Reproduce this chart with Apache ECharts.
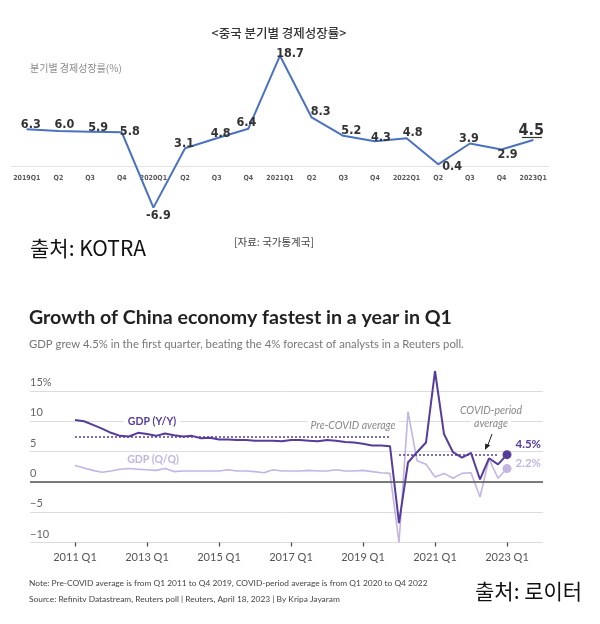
<!DOCTYPE html>
<html><head><meta charset="utf-8">
<script src="https://cdn.jsdelivr.net/npm/echarts@6/dist/echarts.min.js"></script>
<style>html,body{margin:0;padding:0;background:#fff}#c{width:600px;height:624px}</style>
</head><body><div id="c"></div>
<script>
// ---- Top chart (KOTRA) ----
const kotraQuarters = ['2019Q1','Q2','Q3','Q4','2020Q1','Q2','Q3','Q4','2021Q1','Q2','Q3','Q4','2022Q1','Q2','Q3','Q4','2023Q1'];
const kotraGrowth = [6.3,6.0,5.9,5.8,-6.9,3.1,4.8,6.4,18.7,8.3,5.2,4.3,4.8,0.4,3.9,2.9,4.5];

// ---- Bottom chart (Reuters) ----
const reutersTickLabels = ['2011 Q1','2013 Q1','2015 Q1','2017 Q1','2019 Q1','2021 Q1','2023 Q1'];
const reutersFirstQuarter = '2011 Q1';
const gdpYoY = [10.2,10.0,9.4,8.8, 8.1,7.6,7.5,8.1, 7.9,7.6,8.0,7.7, 7.5,7.6,7.2,7.3, 7.0,7.0,6.9,6.9,
  6.8,6.8,6.8,6.7, 6.9,6.9,6.8,6.7, 6.9,6.8,6.6,6.5, 6.3,6.0,6.0,5.9, -6.8,3.2,4.9,6.5,
  18.3,7.9,4.9,4.0, 4.8,0.4,3.9,2.9, 4.5];
const gdpQoQ = [2.7,2.3,1.9,1.6, 1.8,2.1,2.2,2.1, 2.0,1.9,2.2,1.7, 1.8,1.8,1.8,1.8, 1.8,2.0,1.8,1.8,
  1.7,1.5,2.0,1.8, 1.8,1.8,1.9,1.8, 1.8,2.0,1.8,1.8, 1.9,1.7,1.5,1.4, -10.0,11.6,3.5,2.9,
  0.8,1.4,0.6,1.4, 1.5,-2.5,3.8,0.6, 2.2];
const preCovidAvg = {from:'2011 Q1', to:'2019 Q4', value:7.5};
const covidAvg = {from:'2020 Q1', to:'2022 Q4', value:4.5};

// quarter categories for the bottom axis (2009 Q4 .. 2024 Q1)
const bottomQuarters = [];
for (let y = 2009; y <= 2024; y++) for (let q = 1; q <= 4; q++) bottomQuarters.push(y + ' Q' + q);
const axisQuarters = bottomQuarters.slice(bottomQuarters.indexOf('2009 Q4'), bottomQuarters.indexOf('2024 Q1') + 1);
const pad = axisQuarters.indexOf(reutersFirstQuarter);

// label offsets (style only) for top chart
const kotraLabelOffsets = [[4,-5],[6,-6],[8,-4],[8,-1],[5,8],[-1,-5],[4,-4],[-2,-6],[10,-2],[9,-6],[8,-5],[6,-3],[6,-5],[14,2],[-1,-5],[6,5],[-2,-9]];

const YY = '#563c9c', QQ = '#c3b4e4';
const latin = "Lato, 'Noto Sans', sans-serif";
const kr = "'Noto Sans CJK KR', sans-serif";
const narrow = "'Liberation Sans Narrow', 'DejaVu Sans Condensed', sans-serif";

function lastPoint(arr, color, offY) {
  return Array(pad).fill('-').concat(arr.map((v, i) => i === arr.length - 1 ? {
    value: v, symbol: 'circle', symbolSize: 9, itemStyle: {color: color},
    label: {show: true, position: 'right', distance: 4, offset: [0, offY], formatter: '{c}%',
      color: color, fontWeight: 'bold', fontSize: 11.5, fontFamily: latin}
  } : v));
}

const chart = echarts.init(document.getElementById('c'), null, {renderer: 'canvas'});
chart.setOption({
  animation: false,
  backgroundColor: '#fff',
  grid: [
    {left: 11, width: 538, top: 48, height: 178},
    {left: 30, width: 513, top: 391, height: 151.5}
  ],
  xAxis: [
    {gridIndex: 0, type: 'category', data: kotraQuarters, boundaryGap: true, offset: -59.3,
      axisLine: {onZero: false, lineStyle: {color: '#e3e3e3', width: 1}}, axisTick: {show: false},
      axisLabel: {color: '#5a5a5a', fontSize: 7, fontWeight: 'bold', fontFamily: narrow, margin: 8, interval: 0}},
    {gridIndex: 1, type: 'category', data: axisQuarters, boundaryGap: false,
      axisLine: {show: false, onZero: false},
      axisTick: {show: true, length: 4, lineStyle: {color: '#444', width: 1.2},
        interval: (i, v) => reutersTickLabels.includes(v)},
      axisLabel: {color: '#555', fontSize: 11, fontFamily: latin, margin: 9,
        interval: (i, v) => reutersTickLabels.includes(v)},
      splitLine: {show: false}}
  ],
  yAxis: [
    {gridIndex: 0, type: 'value', min: -10, max: 20, show: false},
    {gridIndex: 1, type: 'value', min: -10, max: 15, interval: 5,
      axisLine: {show: false}, axisTick: {show: false},
      axisLabel: {inside: true, margin: 0, verticalAlign: 'bottom', padding: [0,0,3,0],
        color: '#666', fontSize: 11, fontFamily: latin,
        formatter: v => v === 15 ? '15%' : (v < 0 ? '\u2212' + Math.abs(v) : String(v))},
      splitLine: {lineStyle: {color: '#dcdcdc', width: 1}}}
  ],
  series: [
    {type: 'line', xAxisIndex: 0, yAxisIndex: 0,
      lineStyle: {color: '#4a72c0', width: 2}, itemStyle: {color: '#4a72c0'},
      symbol: 'circle', symbolSize: 1, showSymbol: true, clip: false,
      label: {show: true, position: 'inside', color: '#333', fontWeight: 'bold', fontSize: 12.5, fontFamily: narrow,
        formatter: p => Number(p.value).toFixed(1)},
      labelLayout: p => ({dx: kotraLabelOffsets[p.dataIndex][0], dy: kotraLabelOffsets[p.dataIndex][1]}),
      data: kotraGrowth.map((v, i) => i === kotraGrowth.length - 1 ? {value: v, label: {fontSize: 16}} : v)},
    {type: 'line', xAxisIndex: 1, yAxisIndex: 1, name: 'GDP (Q/Q)', symbol: 'none', clip: false,
      lineStyle: {color: QQ, width: 1.6}, itemStyle: {color: QQ},
      data: lastPoint(gdpQoQ, QQ, -5),
      markLine: {silent: true, symbol: 'none', label: {show: false},
        lineStyle: {color: '#555', width: 1.5, type: 'solid'},
        data: [{yAxis: 0}]}},
    {type: 'line', xAxisIndex: 1, yAxisIndex: 1, name: 'GDP (Y/Y)', symbol: 'none', clip: false,
      lineStyle: {color: YY, width: 2}, itemStyle: {color: YY},
      data: lastPoint(gdpYoY, YY, -10),
      markLine: {silent: true, symbol: 'none', label: {show: false},
        lineStyle: {color: YY, width: 1.6, type: [2, 2]},
        data: [
          [{coord: [preCovidAvg.from, preCovidAvg.value]}, {coord: [preCovidAvg.to, preCovidAvg.value]}],
          [{coord: [covidAvg.from, covidAvg.value]}, {coord: [covidAvg.to, covidAvg.value]}]
        ]}}
  ],
  graphic: [
    {type: 'text', x: 279, y: 33, style: {text: '<중국 분기별 경제성장률>', font: '500 12.5px ' + kr, fill: '#333', align: 'center', verticalAlign: 'middle'}},
    {type: 'text', x: 30, y: 68, style: {text: '분기별 경제성장률(%)', font: '10px ' + kr, fill: '#8a8a8a', align: 'left', verticalAlign: 'middle'}},
    {type: 'line', shape: {x1: 522, y1: 137.5, x2: 542, y2: 137.5}, style: {stroke: '#333', lineWidth: 1.2}},
    {type: 'text', x: 30, y: 248, style: {text: '출처: KOTRA', font: '21px ' + kr, fill: '#111', align: 'left', verticalAlign: 'middle'}},
    {type: 'text', x: 234, y: 242, style: {text: '[자료: 국가통계국]', font: '10.5px ' + kr, fill: '#444', align: 'left', verticalAlign: 'middle'}},
    {type: 'text', x: 29, y: 318, style: {text: 'Growth of China economy fastest in a year in Q1', font: 'bold 19.6px ' + latin, fill: '#222', align: 'left', verticalAlign: 'middle'}},
    {type: 'text', x: 29, y: 344, style: {text: 'GDP grew 4.5% in the first quarter, beating the 4% forecast of analysts in a Reuters poll.', font: '11.3px ' + latin, fill: '#777', align: 'left', verticalAlign: 'middle'}},
    {type: 'text', x: 152, y: 422, z: 10, style: {text: 'GDP (Y/Y)', font: 'bold 10.5px ' + latin, fill: YY, align: 'center', verticalAlign: 'middle', backgroundColor: '#fff', padding: [1, 4]}},
    {type: 'text', x: 153, y: 460, z: 10, style: {text: 'GDP (Q/Q)', font: 'bold 10.5px ' + latin, fill: QQ, align: 'center', verticalAlign: 'middle', backgroundColor: '#fff', padding: [1, 4]}},
    {type: 'text', x: 353, y: 426, z: 10, style: {text: 'Pre-COVID average', font: 'italic 10.5px ' + latin, fill: '#888', align: 'center', verticalAlign: 'middle', backgroundColor: '#fff', padding: [1, 3]}},
    {type: 'text', x: 491, y: 411, z: 10, style: {text: 'COVID-period', font: 'italic 10.5px ' + latin, fill: '#888', align: 'center', verticalAlign: 'middle', backgroundColor: '#fff', padding: [1, 3]}},
    {type: 'text', x: 491, y: 423.5, z: 10, style: {text: 'average', font: 'italic 10.5px ' + latin, fill: '#888', align: 'center', verticalAlign: 'middle', backgroundColor: '#fff', padding: [0, 3]}},
    {type: 'line', z: 10, shape: {x1: 492, y1: 434, x2: 487.5, y2: 446}, style: {stroke: '#222', lineWidth: 1}},
    {type: 'polygon', z: 10, shape: {points: [[485, 450], [485.2, 443.5], [490.2, 445.3]]}, style: {fill: '#222'}},
    {type: 'text', x: 29, y: 583, style: {text: 'Note: Pre-COVID average is from Q1 2011 to Q4 2019, COVID-period average is from Q1 2020 to Q4 2022', font: '8.4px ' + latin, fill: '#444', align: 'left', verticalAlign: 'middle'}},
    {type: 'text', x: 29, y: 599, style: {text: 'Source: Refinitv Datastream, Reuters poll | Reuters, April 18, 2023 | By Kripa Jayaram', font: '8.4px ' + latin, fill: '#444', align: 'left', verticalAlign: 'middle'}},
    {type: 'text', x: 475, y: 591, style: {text: '출처: 로이터', font: '21px ' + kr, fill: '#111', align: 'left', verticalAlign: 'middle'}}
  ]
});
</script>
</body></html>
